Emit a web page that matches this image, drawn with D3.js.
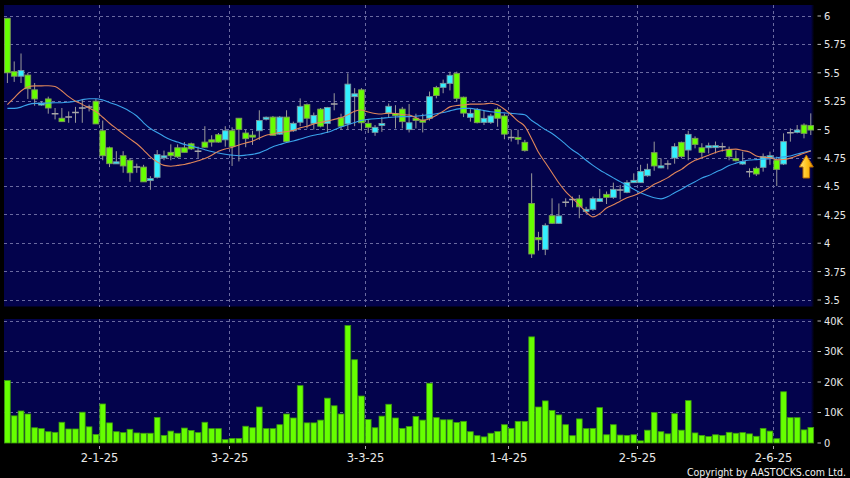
<!DOCTYPE html>
<html><head><meta charset="utf-8">
<script src="https://cdn.jsdelivr.net/npm/d3@7"></script>
<style>html,body{margin:0;padding:0;background:#000;}svg{display:block}</style>
</head><body><svg id="c" width="850" height="478"></svg>
<script>
// ---- data (trading days, d-m-yy) ----
const monthDays = [
  ["12-24", [10,11,12,13,16,17,18,19,20,23,24,27,30,31]],
  ["1-25",  [2,3,6,7,8,9,10,13,14,15,16,17,20,21,22,23,24,27,28]],
  ["2-25",  [3,4,5,6,7,10,11,12,13,14,17,18,19,20,21,24,25,26,27,28]],
  ["3-25",  [3,4,5,6,7,10,11,12,13,14,17,18,19,20,21,24,25,26,27,28,31]],
  ["4-25",  [1,2,3,7,8,9,10,11,14,15,16,17,22,23,24,25,28,29,30]],
  ["5-25",  [2,6,7,8,9,12,13,14,15,16,19,20,21,22,23,26,27,28,29,30]],
  ["6-25",  [2,3,4,5,6,9]]
];
const dates = monthDays.flatMap(([m, ds]) => ds.map(d => d + "-" + m));

const open = [5.98,5.51,5.47,5.48,5.35,5.22,5.27,5.14,5.10,5.11,5.15,5.19,5.20,5.25,4.99,4.84,4.70,4.77,4.73,4.67,
4.67,4.555,4.58,4.755,4.80,4.84,4.84,4.875,4.81,4.89,4.91,4.955,4.91,4.99,5.10,4.97,4.95,4.99,5.095,5.11,
4.96,5.11,4.99,5.065,5.22,5.055,5.18,5.055,5.225,5.105,5.05,5.29,5.35,5.055,4.976,5.04,5.145,5.14,5.18,5.00,
5.10,5.085,5.10,5.37,5.372,5.407,5.495,5.285,5.108,5.178,5.064,5.064,5.178,5.12,4.93,4.93,4.888,4.35,4.05,3.946,
4.242,4.175,4.36,4.385,4.39,4.28,4.298,4.368,4.43,4.404,4.468,4.448,4.533,4.533,4.594,4.797,4.668,4.697,4.75,4.888,
4.82,4.923,4.84,4.845,4.846,4.85,4.826,4.744,4.697,4.63,4.659,4.668,4.758,4.732,4.697,4.973,4.976,5.04,5.035];
const high = [5.98,5.60,5.67,5.50,5.41,5.25,5.29,5.19,5.19,5.16,5.20,5.27,5.22,5.27,5.08,4.85,4.81,4.81,4.75,4.70,
4.69,4.59,4.82,4.815,4.87,4.87,4.89,4.885,4.85,5.03,4.95,4.97,5.03,5.02,5.10,5.00,4.99,5.17,5.115,5.12,
5.12,5.17,5.07,5.275,5.23,5.15,5.19,5.20,5.32,5.14,5.495,5.365,5.365,5.085,5.04,5.11,5.23,5.215,5.20,5.225,
5.14,5.14,5.335,5.385,5.44,5.51,5.51,5.29,5.18,5.19,5.165,5.14,5.195,5.14,5.00,5.00,4.91,4.615,4.10,4.175,
4.395,4.35,4.395,4.41,4.425,4.32,4.41,4.48,4.455,4.533,4.512,4.555,4.615,4.69,4.70,4.894,4.747,4.73,4.88,4.894,
4.99,4.94,4.88,4.885,4.895,4.885,4.85,4.815,4.806,4.659,4.674,4.79,4.806,4.762,4.967,5.011,5.04,5.055,5.143];
const low = [5.41,5.42,5.41,5.27,5.21,5.21,5.14,5.09,5.07,5.06,5.06,5.06,5.16,5.05,4.73,4.67,4.70,4.62,4.54,4.62,
4.54,4.47,4.57,4.73,4.73,4.75,4.80,4.82,4.75,4.84,4.85,4.885,4.85,4.68,4.72,4.845,4.865,4.91,5.08,4.95,
4.955,4.89,4.98,5.03,5.01,5.00,5.02,4.97,5.17,5.00,5.00,5.03,4.99,4.97,4.945,4.98,5.11,5.01,5.01,4.975,
5.01,4.975,5.08,5.275,5.32,5.345,5.245,5.11,5.07,5.055,5.04,5.05,5.025,4.915,4.895,4.87,4.806,3.87,3.935,3.895,
4.17,4.17,4.32,4.316,4.22,4.26,4.285,4.365,4.345,4.39,4.386,4.44,4.53,4.53,4.585,4.638,4.66,4.65,4.70,4.747,
4.73,4.835,4.76,4.79,4.79,4.806,4.73,4.72,4.69,4.58,4.592,4.63,4.69,4.503,4.688,4.894,4.967,4.923,4.952];
const close = [5.50,5.47,5.52,5.36,5.27,5.23,5.19,5.14,5.07,5.11,5.15,5.19,5.20,5.05,4.77,4.70,4.715,4.68,4.62,4.67,
4.54,4.565,4.78,4.765,4.77,4.76,4.80,4.83,4.81,4.845,4.89,4.89,4.99,4.85,5.00,4.92,4.935,5.08,5.105,4.95,
5.11,4.895,5.055,5.205,5.10,5.125,5.03,5.195,5.225,5.03,5.40,5.315,5.06,5.02,5.02,5.05,5.205,5.125,5.07,5.06,
5.08,5.065,5.29,5.30,5.407,5.478,5.275,5.145,5.143,5.061,5.099,5.12,5.10,4.96,4.93,4.915,4.815,3.905,4.03,4.157,
4.175,4.24,4.36,4.385,4.32,4.298,4.392,4.392,4.404,4.474,4.468,4.533,4.553,4.632,4.65,4.68,4.676,4.697,4.85,4.762,
4.958,4.87,4.80,4.853,4.854,4.85,4.762,4.726,4.718,4.63,4.609,4.762,4.764,4.65,4.894,4.973,4.996,4.967,4.996];
const ma10 = [5.22,5.28,5.34,5.375,5.385,5.385,5.386,5.38,5.34,5.29,5.25,5.222,5.19,5.159,5.109,5.056,5.009,4.963,4.918,4.875,
4.82,4.76,4.715,4.685,4.678,4.685,4.693,4.708,4.725,4.745,4.775,4.81,4.83,4.843,4.865,4.882,4.898,4.925,4.95,4.96,
4.975,4.982,4.993,5.015,5.03,5.05,5.063,5.075,5.09,5.105,5.13,5.162,5.172,5.155,5.142,5.137,5.145,5.142,5.133,5.128,
5.105,5.08,5.095,5.125,5.162,5.20,5.212,5.217,5.224,5.224,5.226,5.232,5.218,5.179,5.131,5.075,5.029,4.92,4.80,4.71,
4.62,4.53,4.455,4.395,4.335,4.275,4.232,4.26,4.31,4.338,4.37,4.40,4.42,4.447,4.48,4.518,4.546,4.577,4.618,4.65,
4.695,4.73,4.752,4.775,4.798,4.816,4.825,4.828,4.816,4.802,4.768,4.756,4.753,4.735,4.737,4.749,4.77,4.792,4.812];
const ma20 = [5.187,5.187,5.198,5.22,5.231,5.231,5.234,5.237,5.237,5.242,5.25,5.263,5.272,5.272,5.26,5.238,5.218,5.192,5.16,5.12,
5.06,5.01,4.975,4.94,4.91,4.89,4.87,4.855,4.84,4.823,4.807,4.794,4.783,4.775,4.77,4.775,4.782,4.795,4.82,4.85,
4.868,4.886,4.90,4.917,4.935,4.95,4.962,4.976,4.998,5.022,5.043,5.062,5.081,5.09,5.096,5.10,5.107,5.111,5.114,5.114,
5.118,5.125,5.132,5.14,5.15,5.165,5.18,5.187,5.187,5.178,5.167,5.157,5.151,5.147,5.143,5.138,5.13,5.08,5.04,5.0,
4.965,4.92,4.87,4.82,4.78,4.73,4.685,4.645,4.61,4.575,4.542,4.508,4.475,4.444,4.42,4.40,4.39,4.41,4.445,4.475,
4.51,4.54,4.575,4.595,4.625,4.652,4.684,4.705,4.722,4.732,4.736,4.74,4.744,4.752,4.76,4.768,4.785,4.80,4.815];
const volume = [20500,8900,10500,9500,5000,4700,3700,3500,6800,4600,4600,10100,5300,2800,12800,6600,3700,3400,4500,3300,
3200,3200,8400,2500,3900,3200,4900,4100,3400,6800,4700,4700,1100,1500,1500,5500,5000,11800,4700,4700,
6000,9500,8200,18800,6600,6600,7500,14700,12200,9500,38500,27300,15400,7700,5000,8800,12700,8200,4800,5400,
8700,7500,19600,8300,7600,7600,6700,7100,3700,2400,2000,3200,3800,6000,4800,7100,7100,34800,11800,13800,
10700,9200,6000,2400,7900,4700,4800,11600,2700,6000,2600,2500,2700,700,4200,10000,3700,3000,9600,4200,
13900,3300,2500,2100,2700,2500,3500,3200,3400,3000,2200,4800,3900,1400,16800,8300,8300,4300,5100];

const dateTicks = ["2-1-25","3-2-25","3-3-25","1-4-25","2-5-25","2-6-25"];
const priceTicks = [3.5,3.75,4,4.25,4.5,4.75,5,5.25,5.5,5.75,6];
const volTicks = [0,10000,20000,30000,40000];
const volTickLabels = ["0","10K","20K","30K","40K"];

// ---- drawing ----
const svg = d3.select("#c");
const L = 4, R = 814.2;
const P = {top: 5, bottom: 306.5};
const V = {top: 319, bottom: 443};
const NAVY = "#03034c";
const GRID = "#6a6aa0";

const x = d3.scaleBand().domain(dates).range([L, R]).paddingInner(0.16).paddingOuter(0.08);
const bw = x.bandwidth();
const gx = d => x(d) - (x.step() - bw) / 2;   // left edge of slot
const cx = d => x(d) + bw / 2;

const yP = d3.scaleLinear().domain([3.5, 6]).range([300, 16]);
const yV = d3.scaleLinear().domain([0, 40000]).range([443, 321]);

svg.append("rect").attr("width", 850).attr("height", 478).attr("fill", "#000");

const defs = svg.append("defs");
const edge = defs.append("linearGradient").attr("id", "edge").attr("x1", 0).attr("x2", 1);
edge.append("stop").attr("offset", 0).attr("stop-color", NAVY);
edge.append("stop").attr("offset", 1).attr("stop-color", "#000");
const gold = defs.append("linearGradient").attr("id", "gold").attr("x1", 0).attr("x2", 1);
gold.append("stop").attr("offset", 0).attr("stop-color", "#ffe680");
gold.append("stop").attr("offset", 0.55).attr("stop-color", "#ffc21a");
gold.append("stop").attr("offset", 1).attr("stop-color", "#e69400");
defs.append("clipPath").attr("id", "pclip").append("rect")
  .attr("x", L).attr("y", P.top).attr("width", R - L).attr("height", P.bottom - P.top);

// panels
[[P.top, P.bottom], [V.top, V.bottom]].forEach(([t, b]) => {
  svg.append("rect").attr("x", L).attr("y", t).attr("width", R - L - 3).attr("height", b - t).attr("fill", NAVY);
  svg.append("rect").attr("x", R - 3.2).attr("y", t).attr("width", 3.2).attr("height", b - t).attr("fill", "url(#edge)");
});

const grid = svg.append("g").attr("stroke", GRID).attr("stroke-width", 1).attr("stroke-dasharray", "3,3")
  .attr("shape-rendering", "crispEdges");
priceTicks.forEach(t => grid.append("line").attr("x1", L).attr("x2", R).attr("y1", yP(t)).attr("y2", yP(t)));
volTicks.slice(1).forEach(t => grid.append("line").attr("x1", L).attr("x2", R).attr("y1", yV(t)).attr("y2", yV(t)));
dateTicks.forEach(d => {
  const xx = Math.round(gx(d)) + 0.5;
  grid.append("line").attr("x1", xx).attr("x2", xx).attr("y1", P.top).attr("y2", P.bottom);
  grid.append("line").attr("x1", xx).attr("x2", xx).attr("y1", V.top).attr("y2", V.bottom);
});

// volume bars
svg.append("g").selectAll("rect").data(volume).join("rect")
  .attr("x", (v, i) => x(dates[i])).attr("width", bw)
  .attr("y", v => yV(v)).attr("height", v => yV(0) - yV(v))
  .attr("fill", "#66ff00").attr("stroke", "#3c9a10").attr("stroke-width", 0.8);

// candles
const cg = svg.append("g").attr("clip-path", "url(#pclip)");
dates.forEach((d, i) => {
  const o = open[i], c = close[i], h = high[i], l = low[i];
  const xm = cx(d);
  cg.append("line").attr("x1", xm).attr("x2", xm).attr("y1", yP(h)).attr("y2", yP(l))
    .attr("stroke", "#9a9a9a").attr("stroke-width", 1);
  if (o === c) {
    cg.append("line").attr("x1", x(d) - 0.5).attr("x2", x(d) + bw + 0.5).attr("y1", yP(c)).attr("y2", yP(c))
      .attr("stroke", "#a8a8a8").attr("stroke-width", 1.5);
  } else {
    const top = yP(Math.max(o, c)), bot = yP(Math.min(o, c));
    const hgt = Math.max(2, bot - top);
    cg.append("rect").attr("x", x(d)).attr("width", bw)
      .attr("y", (top + bot) / 2 - hgt / 2).attr("height", hgt)
      .attr("fill", c > o ? "#33f0ff" : "#66ff00")
      .attr("stroke", c > o ? "#7a9aa2" : "#7e9a5a").attr("stroke-width", 0.9);
  }
});

// moving averages
const line = arr => d3.line().x((v, i) => cx(dates[i])).y(v => yP(v)).curve(d3.curveMonotoneX)(arr);
cg.append("path").attr("d", line(ma20)).attr("fill", "none").attr("stroke", "#3aa2ea").attr("stroke-width", 1.1);
cg.append("path").attr("d", line(ma10)).attr("fill", "none").attr("stroke", "#e0865a").attr("stroke-width", 1.1);

// arrow near last candle
const ax = cx(dates[dates.length - 1]) - 4.5, aTop = 155, aMid = 167, aBot = 178;
svg.append("path")
  .attr("d", `M${ax},${aTop} L${ax + 7},${aMid} L${ax + 3.3},${aMid} L${ax + 3.3},${aBot} L${ax - 3.3},${aBot} L${ax - 3.3},${aMid} L${ax - 7},${aMid} Z`)
  .attr("fill", "url(#gold)").attr("stroke", "#b86a00").attr("stroke-width", 1);

// right axes
const axisText = "'DejaVu Sans Condensed','DejaVu Sans',sans-serif";
const ra = svg.append("g").attr("font-family", axisText).attr("font-size", 11).attr("fill", "#e8e8e8");
priceTicks.forEach(t => {
  ra.append("line").attr("x1", 817.5).attr("x2", 821).attr("y1", yP(t)).attr("y2", yP(t)).attr("stroke", "#bbb");
  ra.append("text").attr("x", 824).attr("y", yP(t)).attr("dy", "0.36em").text(String(t));
});
volTicks.forEach((t, k) => {
  ra.append("line").attr("x1", 817.5).attr("x2", 821).attr("y1", yV(t)).attr("y2", yV(t)).attr("stroke", "#bbb");
  ra.append("text").attr("x", 824).attr("y", yV(t)).attr("dy", "0.36em").text(volTickLabels[k]);
});

// date axis
const da = svg.append("g").attr("font-family", "'DejaVu Sans',sans-serif").attr("font-size", 11.5).attr("fill", "#e8e8e8");
dateTicks.forEach(d => {
  const xx = Math.round(gx(d)) + 0.5;
  da.append("line").attr("x1", xx).attr("x2", xx).attr("y1", 446).attr("y2", 449).attr("stroke", "#aaa");
  da.append("text").attr("x", xx).attr("y", 461.5).attr("text-anchor", "middle").text(d);
});

svg.append("text").attr("x", 846).attr("y", 476).attr("text-anchor", "end")
  .attr("font-family", axisText).attr("font-size", 10.5).attr("fill", "#f0f0f0")
  .text("Copyright by AASTOCKS.com Ltd.");
</script></body></html>
